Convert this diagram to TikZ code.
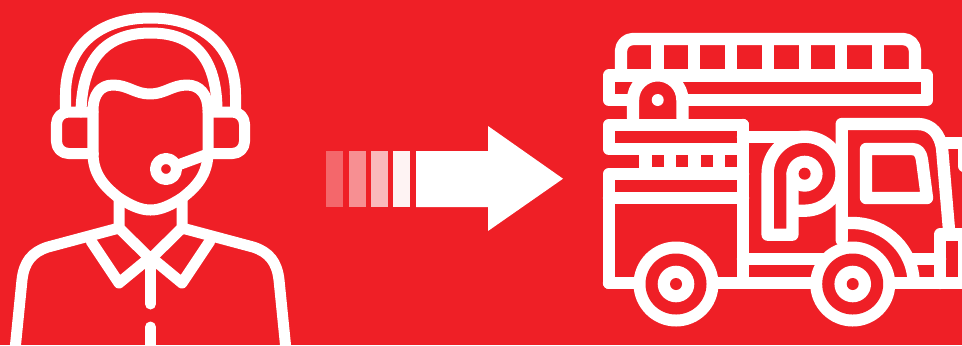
\documentclass[tikz,border=0pt]{standalone}
\definecolor{firered}{HTML}{EF1F26}
\tikzset{
  pen/.style={white,line width=0.11cm,line cap=round,line join=round},
  truckpen/.style={pen,line width=0.123cm},
  hole/.style={fill=firered}
}
\begin{document}
\begin{tikzpicture}[x=0.01cm,y=-0.01cm]
  \clip (0,0) rectangle (962,345);
  \fill[firered] (0,0) rectangle (962,345);
  % operator
  \draw[pen] (65.5,112)--(65.5,95) .. controls (65.5,45) and (100,18) .. (150.5,18) .. controls (201,18) and (235.5,45) .. (235.5,95)--(235.5,112);
  \draw[pen] (81,112) .. controls (82,60) and (105,33) .. (150.5,33) .. controls (196,33) and (216,60) .. (217,108);
  \draw[pen,rounded corners=0.12cm] (93,112)--(56.5,112)--(56.5,153.5)--(93,153.5);
  \draw[pen,rounded corners=0.12cm] (208,112)--(244.5,112)--(244.5,153.5)--(208,153.5);
  \draw[pen] (93,155)--(93,110) .. controls (93,95) and (100,85) .. (113,85) .. controls (128,85) and (135,94) .. (150,94) .. controls (165,94) and (172,85) .. (187,85) .. controls (200,85) and (208,95) .. (208,110)--(208,152);
  \draw[pen] (93,153) .. controls (93,175) and (105,187) .. (119,198) .. controls (130,205) and (140,210) .. (150.5,210) .. controls (161,210) and (171,205) .. (182,198) .. controls (196,187) and (208,175) .. (208,152);
  \draw[pen] (119,198)--(119,228)--(150.5,259)--(182,228)--(182,198);
  \draw[pen] (15,350)--(22,280) .. controls (24,262) and (32,252) .. (48,247)--(119,228);
  \draw[pen] (286,350)--(279,280) .. controls (277,262) and (269,252) .. (253,247)--(182,228);
  \draw[pen] (91,241)--(119,283)--(150.5,257)--(182,283)--(210,241);
  \draw[pen] (150.5,259)--(150.5,304);
  \draw[pen] (150.5,327)--(150.5,350);
  \draw[pen] (166,169) circle[radius=10.5];
  \draw[pen] (178,165)--(208,154);
  % arrow
  \foreach \x/\o in {326/0.32,349/0.5,371/0.69,393/0.95} \fill[white,opacity=\o] (\x,151) rectangle +(17,56);
  \fill[white] (416,151)--(488,151)--(488,126)--(563,178.7)--(488,231)--(488,207)--(416,207)--cycle;
  % truck
  \draw[truckpen,rounded corners=0.12cm] (621,75)--(621,39)--(915,39)--(915,75);
  \foreach \x in {657.5,694.3,731,768,804.7,841,878} \draw[truckpen,line cap=butt] (\x,39)--(\x,75);
  \draw[truckpen] (609,75.5) rectangle (927,100);
  \fill[hole] (633,118)--(633,100) arc[start angle=180,end angle=360,radius=24.7]--(682.5,118)--cycle;
  \draw[truckpen] (633,118)--(633,100) arc[start angle=180,end angle=360,radius=24.7]--(682.5,118);
  \fill[white] (657.7,100) circle[radius=6];
  \draw[truckpen] (609,125) rectangle (743,149);
  \fill[white] (639,149) rectangle (743,174);
  \foreach \x in {651.7,676,700.7,725} \fill[hole] (\x,155) rectangle +(12,12);
  \draw[truckpen] (743,125)--(743,283)--(609,283)--(609,174)--(743,174);
  \draw[truckpen] (609,198)--(743,198);
  \draw[truckpen] (743,136.7)--(804.6,136.7);
  \draw[truckpen] (743,259)--(852,259);
  \draw[truckpen] (609,283)--(970,283);
  \draw[truckpen] (792.4,173.7)--(792.4,234.7)--(767.6,234.7)--(767.6,173.7) arc[start angle=180,end angle=450,radius=37]--(792.4,210.7);
  \fill[white] (804.6,173.7) circle[radius=18];
  \fill[hole] (804.6,173.7) circle[radius=6];
  \draw[truckpen] (841.7,240)--(841.7,124)--(918,124) .. controls (932,124) and (940,135) .. (942,148)--(949,230);
  \draw[truckpen] (866,149)--(912,149) .. controls (918,149) and (921,153) .. (922,160)--(927,198)--(866,198)--cycle;
  \draw[truckpen] (945,143)--(970,143);
  \draw[truckpen] (964,150)--(964,166);
  \draw[truckpen,line cap=butt] (841.7,223)--(852.7,223) arc[start angle=270,end angle=360,radius=61];
  \draw[truckpen] (913,259)--(940,259);
  \draw[truckpen] (940,283)--(940,234.5)--(970,234.5);
  \draw[truckpen] (964,234.5)--(964,283);
  \foreach \x in {676,852.7} {
    \fill[white] (\x,284) circle[radius=42.5];
    \fill[hole] (\x,284) circle[radius=30.5];
    \fill[white] (\x,284) circle[radius=18.3];
    \fill[hole] (\x,284) circle[radius=6];
  }
\end{tikzpicture}
\end{document}
